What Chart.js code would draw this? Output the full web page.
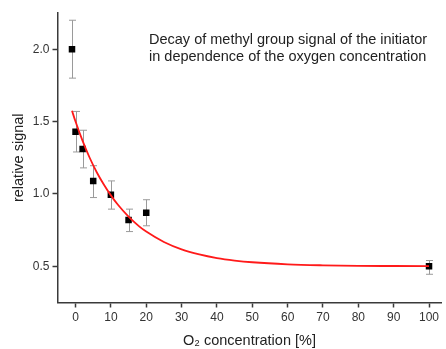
<!DOCTYPE html>
<html>
<head>
<meta charset="utf-8">
<script src="https://cdn.jsdelivr.net/npm/chart.js@4/dist/chart.umd.min.js"></script>
<style>
    body {
        margin: 0;
        background: #fff;
    }
</style>
</head>
<body>
<canvas id="decayChart" width="446" height="349"></canvas>
<script>
// measured points (O2 %, relative signal) and error bar ends
const oxygen = [-1, 0, 2, 5, 10, 15, 20, 100];
const signal = [2.0, 1.43, 1.31, 1.09, 0.995, 0.82, 0.87, 0.5];
const errLow = [1.8, 1.29, 1.18, 0.975, 0.895, 0.74, 0.78, 0.445];
const errHigh = [2.2, 1.57, 1.44, 1.195, 1.09, 0.895, 0.96, 0.54];

// red fit curve
const fitX = [-1, 0, 2, 4, 6, 8, 10, 12, 15, 18, 20, 25, 30, 35, 40, 45, 50, 60, 70, 80, 90, 100];
const fitY = [1.575, 1.5, 1.367, 1.25, 1.15, 1.065, 0.99, 0.925, 0.843, 0.776, 0.74, 0.668, 0.617, 0.582, 0.557, 0.54, 0.528, 0.514, 0.507, 0.503, 0.502, 0.501];

const xTicks = [0, 10, 20, 30, 40, 50, 60, 70, 80, 90, 100];
const yTicks = [0.5, 1.0, 1.5, 2.0];

const noteLines = [
    "Decay of methyl group signal of the initiator",
    "in dependence of the oxygen concentration",
];

const FONT = "'Liberation Sans', Arial, sans-serif";
const AXIS_COLOR = "#3a3a3a";

const errorBars = {
    id: "errorBars",
    beforeDatasetsDraw(chart) {
        const { ctx } = chart;
        const xs = chart.scales.x;
        const ys = chart.scales.y;
        ctx.save();
        ctx.strokeStyle = "#9a9a9a";
        ctx.lineWidth = 1;
        for (let i = 0; i < oxygen.length; i++) {
            const px = Math.round(xs.getPixelForValue(oxygen[i])) + 0.5;
            const top = ys.getPixelForValue(errHigh[i]);
            const bot = ys.getPixelForValue(errLow[i]);
            ctx.beginPath();
            ctx.moveTo(px, top);
            ctx.lineTo(px, bot);
            ctx.moveTo(px - 3.5, top);
            ctx.lineTo(px + 3.5, top);
            ctx.moveTo(px - 3.5, bot);
            ctx.lineTo(px + 3.5, bot);
            ctx.stroke();
        }
        ctx.restore();
    },
};

const noteText = {
    id: "noteText",
    afterDraw(chart) {
        const { ctx } = chart;
        ctx.save();
        ctx.fillStyle = "#222";
        ctx.font = "14.5px " + FONT;
        ctx.textBaseline = "middle";
        ctx.fillText(noteLines[0], 149, 40);
        ctx.fillText(noteLines[1], 149, 57);
        ctx.restore();
    },
};

const ctx = document.getElementById("decayChart").getContext("2d");

new Chart(ctx, {
    type: "scatter",
    data: {
        datasets: [
            {
                label: "fit",
                data: fitX.map((x, i) => ({ x: x, y: fitY[i] })),
                showLine: true,
                borderColor: "#ff1a1a",
                borderWidth: 1.8,
                pointRadius: 0,
                cubicInterpolationMode: "monotone",
                order: 0,
            },
            {
                label: "signal",
                data: oxygen.map((x, i) => ({ x: x, y: signal[i] })),
                pointStyle: "rect",
                pointRadius: 4.6,
                backgroundColor: "#000",
                borderColor: "#000",
                borderWidth: 0,
                order: 1,
            },
        ],
    },
    options: {
        responsive: false,
        animation: false,
        devicePixelRatio: 1,
        layout: {
            padding: { top: 13, right: 0, left: 0, bottom: 0 },
        },
        plugins: {
            legend: { display: false },
            tooltip: { enabled: false },
        },
        scales: {
            x: {
                type: "linear",
                min: -5.1,
                max: 103.5,
                afterBuildTicks: (axis) => {
                    axis.ticks = xTicks.map((v) => ({ value: v }));
                },
                afterFit: (axis) => {
                    axis.height = 46.5;
                },
                border: { display: true, color: AXIS_COLOR, width: 1.5 },
                grid: {
                    drawOnChartArea: false,
                    drawTicks: true,
                    tickLength: 5,
                    tickColor: AXIS_COLOR,
                    tickWidth: 1.5,
                },
                ticks: {
                    color: "#333",
                    font: { family: FONT, size: 12 },
                    padding: 3,
                    maxRotation: 0,
                    autoSkip: false,
                },
                title: {
                    display: true,
                    text: "O₂ concentration [%]",
                    color: "#222",
                    font: { family: FONT, size: 14.5 },
                    padding: { top: 0, bottom: -1 },
                },
            },
            y: {
                type: "linear",
                min: 0.25,
                max: 2.25,
                afterBuildTicks: (axis) => {
                    axis.ticks = yTicks.map((v) => ({ value: v }));
                },
                afterFit: (axis) => {
                    axis.width = 57.5;
                },
                border: { display: true, color: AXIS_COLOR, width: 1.5 },
                grid: {
                    drawOnChartArea: false,
                    drawTicks: true,
                    tickLength: 5,
                    tickColor: AXIS_COLOR,
                    tickWidth: 1.5,
                },
                ticks: {
                    color: "#333",
                    font: { family: FONT, size: 12 },
                    padding: 3,
                    callback: (v) => Number(v).toFixed(1),
                },
                title: {
                    display: true,
                    text: "relative signal",
                    color: "#222",
                    font: { family: FONT, size: 14.5 },
                    padding: { top: 10, bottom: 0 },
                },
            },
        },
    },
    plugins: [errorBars, noteText],
});
</script>
</body>
</html>
